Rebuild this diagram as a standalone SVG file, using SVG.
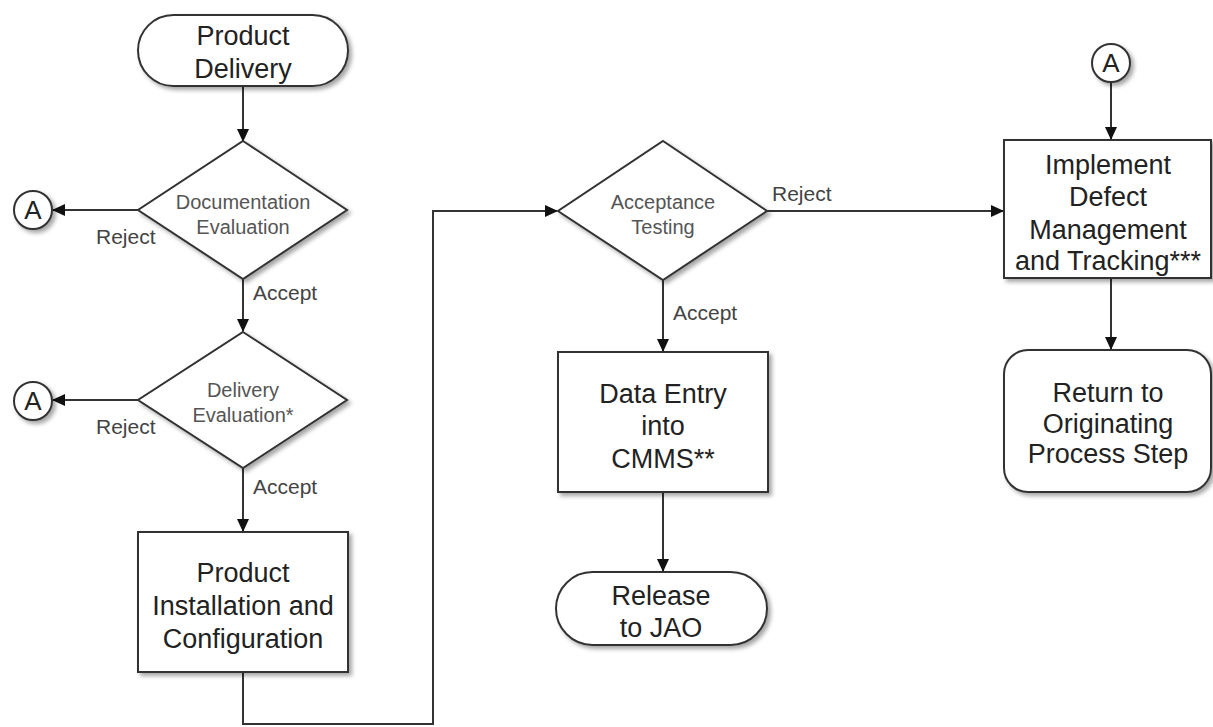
<svg xmlns="http://www.w3.org/2000/svg" width="1213" height="727" viewBox="0 0 1213 727">
<style>
.shape{fill:#fff;stroke:#333;stroke-width:2;filter:url(#sh)}
.big{font-family:"Liberation Sans",Arial,sans-serif;font-size:27px;fill:#222;text-anchor:middle}
.dia{font-family:"Liberation Sans",Arial,sans-serif;font-size:20px;fill:#555;text-anchor:middle}
.lbl{font-family:"Liberation Sans",Arial,sans-serif;font-size:21px;fill:#444}
.conn{fill:none;stroke:#333;stroke-width:2}
.ca{font-family:"Liberation Sans",Arial,sans-serif;font-size:26px;fill:#222;text-anchor:middle}
</style>
<defs>
<filter id="sh" x="-20%" y="-20%" width="140%" height="140%">
<feDropShadow dx="3" dy="3" stdDeviation="2" flood-color="#000" flood-opacity="0.35"/>
</filter>
<marker id="arr" markerWidth="14" markerHeight="14" refX="12" refY="7" orient="auto" markerUnits="userSpaceOnUse">
<path d="M0,1 L13,7 L0,13 Z" fill="#111"/>
</marker>
</defs>
<rect width="1213" height="727" fill="#fff"/>

<g id="connectors">
<path class="conn" d="M243,86 V141" marker-end="url(#arr)"/>
<path class="conn" d="M138,210 H53" marker-end="url(#arr)"/>
<path class="conn" d="M243,279 V331" marker-end="url(#arr)"/>
<path class="conn" d="M138,400 H53" marker-end="url(#arr)"/>
<path class="conn" d="M243,468 V531" marker-end="url(#arr)"/>
<path class="conn" d="M243,672 V724 H433 V211 H557" marker-end="url(#arr)"/>
<path class="conn" d="M767,211 H1003" marker-end="url(#arr)"/>
<path class="conn" d="M663,280 V351" marker-end="url(#arr)"/>
<path class="conn" d="M663,492 V571" marker-end="url(#arr)"/>
<path class="conn" d="M1111,82 V139" marker-end="url(#arr)"/>
<path class="conn" d="M1111,278 V349" marker-end="url(#arr)"/>
<text class="lbl" x="96" y="244">Reject</text>
<text class="lbl" x="253" y="300">Accept</text>
<text class="lbl" x="96" y="434">Reject</text>
<text class="lbl" x="253" y="494">Accept</text>
<text class="lbl" x="673" y="320">Accept</text>
<text class="lbl" x="772" y="201">Reject</text>
</g>

<g id="product-delivery">
<rect class="shape" x="138" y="15" width="210" height="71" rx="35.5"/>
<text class="big" x="243" y="45">Product</text>
<text class="big" x="243" y="78">Delivery</text>
</g>

<g id="documentation-evaluation">
<polygon class="shape" points="243,141 347,210 243,279 138,210"/>
<text class="dia" x="243" y="209">Documentation</text>
<text class="dia" x="243" y="234">Evaluation</text>
</g>

<g id="connector-a1">
<circle class="shape" cx="33" cy="210" r="19"/>
<text class="ca" x="33" y="219">A</text>
</g>

<g id="delivery-evaluation">
<polygon class="shape" points="243,332 347,400 243,468 138,400"/>
<text class="dia" x="243" y="397">Delivery</text>
<text class="dia" x="243" y="422">Evaluation*</text>
</g>

<g id="connector-a2">
<circle class="shape" cx="33" cy="401" r="19"/>
<text class="ca" x="33" y="410">A</text>
</g>

<g id="product-installation">
<rect class="shape" x="138" y="532" width="210" height="140"/>
<text class="big" x="243" y="582">Product</text>
<text class="big" x="243" y="615">Installation and</text>
<text class="big" x="243" y="648">Configuration</text>
</g>

<g id="acceptance-testing">
<polygon class="shape" points="663,141 767,211 663,280 558,211"/>
<text class="dia" x="663" y="209">Acceptance</text>
<text class="dia" x="663" y="234">Testing</text>
</g>

<g id="data-entry">
<rect class="shape" x="558" y="352" width="210" height="140"/>
<text class="big" x="663" y="403">Data Entry</text>
<text class="big" x="663" y="435">into</text>
<text class="big" x="663" y="468">CMMS**</text>
</g>

<g id="release">
<rect class="shape" x="556" y="572" width="211" height="73" rx="36.5"/>
<text class="big" x="661" y="605">Release</text>
<text class="big" x="661" y="637">to JAO</text>
</g>

<g id="connector-a3">
<circle class="shape" cx="1111" cy="63" r="19"/>
<text class="ca" x="1111" y="72">A</text>
</g>

<g id="defect-management">
<rect class="shape" x="1004" y="140" width="207" height="138"/>
<text class="big" x="1108" y="174">Implement</text>
<text class="big" x="1108" y="206">Defect</text>
<text class="big" x="1108" y="239">Management</text>
<text class="big" x="1108" y="270">and Tracking***</text>
</g>

<g id="return-step">
<rect class="shape" x="1004" y="350" width="207" height="142" rx="24"/>
<text class="big" x="1108" y="402">Return to</text>
<text class="big" x="1108" y="433">Originating</text>
<text class="big" x="1108" y="463">Process Step</text>
</g>
</svg>
